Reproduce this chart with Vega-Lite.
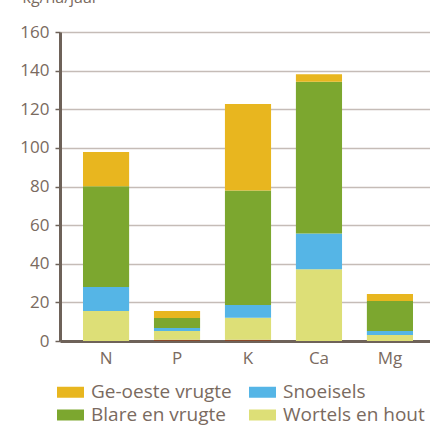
{
  "$schema": "https://vega.github.io/schema/vega-lite/v6.json",
  "autosize": "none",
  "width": 376,
  "height": 309,
  "padding": {"left": 60, "top": 32, "right": 0, "bottom": 84},
  "background": "white",
  "config": {
    "view": {"stroke": null},
    "font": "Open Sans",
    "axis": {"labelColor": "#7a6a60", "titleColor": "#7a6a60", "labelFont": "Open Sans", "titleFont": "Open Sans"}
  },
  "data": {
    "values": [
      {"element": "N", "reeks": "Wortels en hout", "laag": 1, "waarde": 15.5},
      {"element": "N", "reeks": "Snoeisels", "laag": 2, "waarde": 12.5},
      {"element": "N", "reeks": "Blare en vrugte", "laag": 3, "waarde": 52.1},
      {"element": "N", "reeks": "Ge-oeste vrugte", "laag": 4, "waarde": 17.7},
      {"element": "P", "reeks": "Ander", "laag": 0, "waarde": 0.7},
      {"element": "P", "reeks": "Wortels en hout", "laag": 1, "waarde": 4.5},
      {"element": "P", "reeks": "Snoeisels", "laag": 2, "waarde": 1.5},
      {"element": "P", "reeks": "Blare en vrugte", "laag": 3, "waarde": 5.2},
      {"element": "P", "reeks": "Ge-oeste vrugte", "laag": 4, "waarde": 3.6},
      {"element": "K", "reeks": "Ander", "laag": 0, "waarde": 0.7},
      {"element": "K", "reeks": "Wortels en hout", "laag": 1, "waarde": 11.3},
      {"element": "K", "reeks": "Snoeisels", "laag": 2, "waarde": 6.7},
      {"element": "K", "reeks": "Blare en vrugte", "laag": 3, "waarde": 59.2},
      {"element": "K", "reeks": "Ge-oeste vrugte", "laag": 4, "waarde": 44.8},
      {"element": "Ca", "reeks": "Wortels en hout", "laag": 1, "waarde": 37.2},
      {"element": "Ca", "reeks": "Snoeisels", "laag": 2, "waarde": 18.5},
      {"element": "Ca", "reeks": "Blare en vrugte", "laag": 3, "waarde": 78.6},
      {"element": "Ca", "reeks": "Ge-oeste vrugte", "laag": 4, "waarde": 3.8},
      {"element": "Mg", "reeks": "Wortels en hout", "laag": 1, "waarde": 3.1},
      {"element": "Mg", "reeks": "Snoeisels", "laag": 2, "waarde": 2.1},
      {"element": "Mg", "reeks": "Blare en vrugte", "laag": 3, "waarde": 15.5},
      {"element": "Mg", "reeks": "Ge-oeste vrugte", "laag": 4, "waarde": 3.6}
    ]
  },
  "mark": {"type": "bar"},
  "encoding": {
    "x": {
      "field": "element", "type": "nominal", "sort": ["N", "P", "K", "Ca", "Mg"],
      "scale": {"paddingInner": 0.35, "paddingOuter": 0.324},
      "axis": {
        "title": null, "labelAngle": 0, "labelFontSize": 17, "labelPadding": 9,
        "ticks": false, "domainColor": "#6e6259", "domainWidth": 3, "grid": false
      }
    },
    "y": {
      "field": "waarde", "type": "quantitative", "stack": "zero",
      "scale": {"domain": [0, 160], "nice": false},
      "axis": {
        "title": "kg/ha/jaar", "titleAngle": 0, "titleAlign": "left", "titleBaseline": "alphabetic",
        "titleX": -38, "titleY": -30, "titleFontSize": 16, "titleFontWeight": "normal",
        "values": [0, 20, 40, 60, 80, 100, 120, 140, 160],
        "labelFontSize": 17, "labelPadding": 6, "tickSize": 5, "tickWidth": 1.5, "tickColor": "#6e6259",
        "domainColor": "#6e6259", "domainWidth": 3,
        "grid": true, "gridColor": "#c5bcb7", "gridWidth": 1.6
      }
    },
    "order": {"field": "laag", "type": "quantitative"},
    "color": {
      "field": "reeks", "type": "nominal",
      "scale": {
        "domain": ["Ander", "Wortels en hout", "Snoeisels", "Blare en vrugte", "Ge-oeste vrugte"],
        "range": ["#8c4a2a", "#dddf77", "#55b5e6", "#7ca72f", "#e8b61f"]
      },
      "legend": {
        "title": null, "orient": "none", "legendX": 1, "legendY": 350.5, "direction": "horizontal",
        "columns": 2, "values": ["Ge-oeste vrugte", "Snoeisels", "Blare en vrugte", "Wortels en hout"],
        "symbolType": "M-2.45,-1H2.45V1H-2.45Z", "symbolSize": 121, "symbolStrokeWidth": 0,
        "labelFontSize": 19, "labelColor": "#7a6a60", "labelOffset": 11, "columnPadding": 17, "rowPadding": 3,
        "labelLimit": 300
      }
    }
  }
}
